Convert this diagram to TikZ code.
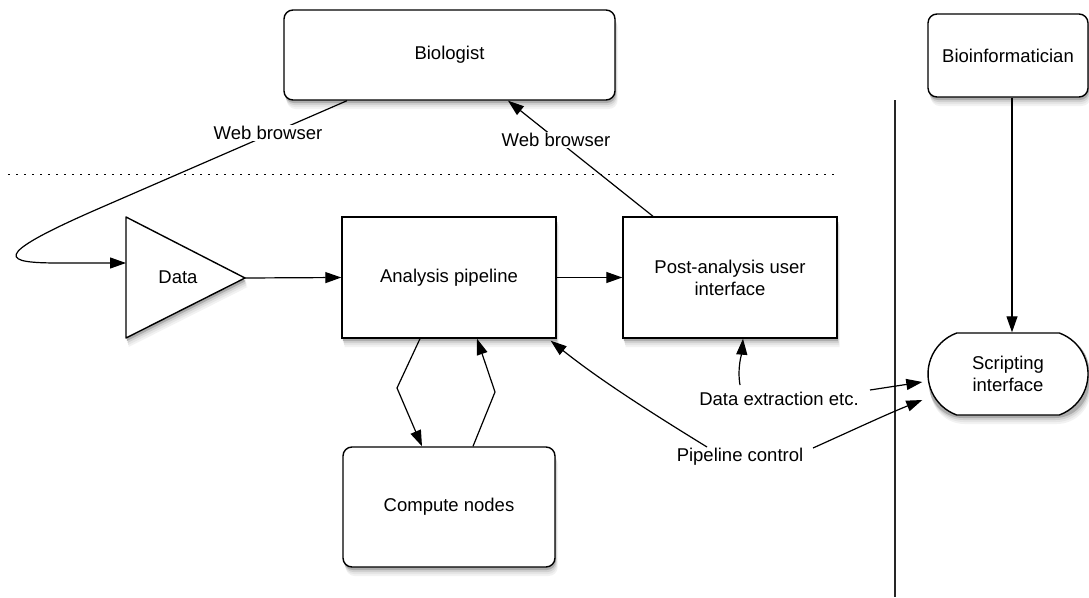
\documentclass[tikz,border=0pt]{standalone}
\usepackage{fontspec}
\setmainfont{Liberation Sans}
\usetikzlibrary{arrows.meta,shapes.misc}
\tikzset{
  base/.style={font=\fontsize{18.5}{22}\selectfont, align=center},
  squarebox/.style={base, draw, line width=1.4pt, fill=white, inner sep=0pt},
  roundbox/.style={squarebox, rounded corners=9pt},
  tag/.style={base, fill=white, inner sep=1pt},
  link/.style={line width=1.2pt, -{Triangle[length=16pt,width=11pt]}},
  plain/.style={line width=1.1pt, black!85},
  dotline/.style={line width=1.2pt, dash pattern=on 2pt off 6pt},
}
% soft drop shadow under a box: stacked grey copies, shifted down and right
% #1,#2 top-left corner, #3,#4 bottom-right corner, #5 corner radius
\newcommand\boxshade[5]{%
  \foreach \s/\c in {9/5,7/10,5/18,3/32}{%
    \fill[black!\c, rounded corners=#5] (#1+\s*0.3,#2+\s) rectangle (#3+\s*0.3,#4+\s);}}
\begin{document}
\begin{tikzpicture}[x=1pt,y=-1pt]
\useasboundingbox (0,0) rectangle (1089,597);

% shadows
\boxshade{284}{10}{615}{100}{9pt}
\boxshade{928}{14}{1088}{97}{9pt}
\boxshade{342}{217}{556}{338}{0.01pt}
\boxshade{623}{217}{837}{338}{0.01pt}
\boxshade{343}{447}{555}{567}{9pt}
\boxshade{928}{333}{1088}{415}{34pt}
\foreach \s/\c in {9/5,7/10,5/18,3/32}{%
  \fill[black!\c] (126+\s*0.3,217+\s) -- (245+\s*0.3,278+\s) -- (126+\s*0.3,338+\s) -- cycle;}

% actors
\node[roundbox, minimum width=331pt, minimum height=90pt] (bio) at (449.5,55) {Biologist};
\node[roundbox, minimum width=160pt, minimum height=83pt] (bioinf) at (1008,55.5) {Bioinformatician};

% data source (triangle) with its label and connection points
\path[draw, line width=1.4pt, line join=round, fill=white] (126,217) -- (245,278) -- (126,338) -- cycle;
\node[base] (data) at (178,277) {Data};
\coordinate (dataIn) at (126,263);
\coordinate (dataOut) at (245,278);

% system components
\node[squarebox, minimum width=214pt, minimum height=121pt] (analysis) at (449,277.5) {Analysis pipeline};
\node[squarebox, minimum width=214pt, minimum height=121pt] (post) at (730,277.5) {Post-analysis user\\interface};
\node[roundbox, minimum width=212pt, minimum height=120pt] (compute) at (449,507) {Compute nodes};
\node[squarebox, rounded rectangle, rounded rectangle arc length=140, minimum width=160pt, minimum height=82pt] (script) at (1008,374) {Scripting\\interface};

% separators
\draw[plain] (895,100) -- (895,597);
\draw[dotline] (8,174.5) -- (837,174.5);

% web access
\draw[link] ([xshift=-102.5pt]bio.south) -- (100,208) .. controls (-15,258) and (5,263) .. (60,263) -- (dataIn);
\node[tag] (wbin) at (268,133) {Web browser};
\draw[link] ([xshift=-77pt]post.north) -- ([xshift=58.5pt]bio.south);
\node[tag] (wbout) at (556,140) {Web browser};

% main flow
\draw[link] (dataOut) -- (analysis.west);
\draw[link] (analysis.east) -- (post.west);
\draw[link] ([xshift=-29pt]analysis.south) -- (397,388) -- ([xshift=-27pt]compute.north);
\draw[link] ([xshift=24pt]compute.north) -- (495,392) -- ([xshift=28pt]analysis.south);

% scripting access
\node[tag] (dx) at (779,399) {Data extraction etc.};
\node[tag] (pc) at (740,457) {Pipeline control};
\draw[link] ([xshift=-39pt,yshift=14pt]dx.center) .. controls +(-3,-17) and +(-1,13) .. ([xshift=13pt]post.south);
\draw[link] ([xshift=91pt,yshift=9pt]dx.center) -- ([xshift=-5pt,yshift=-8pt]script.west);
\draw[link] ([xshift=-33pt,yshift=10pt]pc.center) .. controls +(-52,-32) and +(50,40) .. ([xshift=-6pt,yshift=-2pt]analysis.south east);
\draw[link] ([xshift=73pt,yshift=9pt]pc.center) .. controls +(40,-18) and +(-35,14) .. ([xshift=-5pt,yshift=-26pt]script.west);
\draw[link] ([xshift=4pt]bioinf.south) -- ([xshift=4pt]script.north);
\end{tikzpicture}
\end{document}
